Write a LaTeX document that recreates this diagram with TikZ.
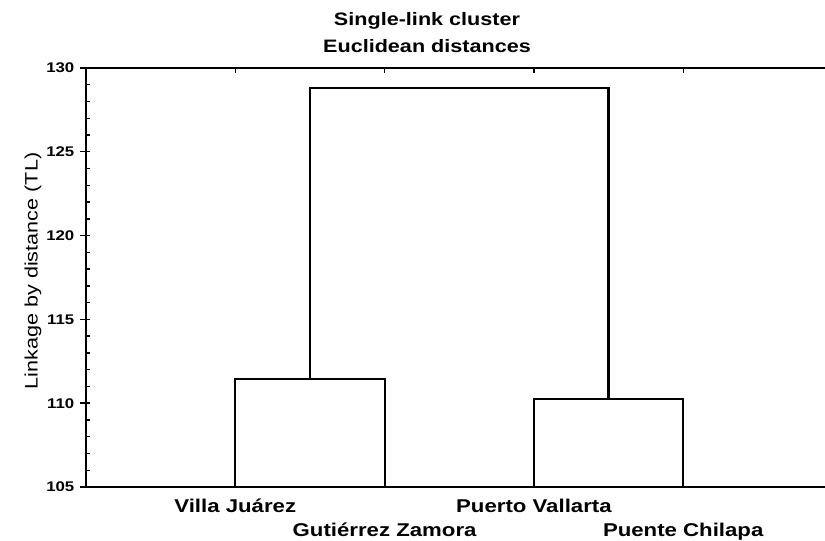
\documentclass[tikz,border=0pt]{standalone}
\usepackage{fontspec}
\newfontfamily\plotfont[FakeStretch=1.2]{Liberation Sans}
\usetikzlibrary{positioning}
\tikzset{
every picture/.style={line cap=rect,line join=miter},
frame line/.style={draw=black, line width=2.2pt},
tree line/.style={draw=black, line width=2.2pt},
tick line/.style={draw=black, line width=1.4pt},
title text/.style={font=\plotfont\bfseries\fontsize{18}{20}\selectfont, inner sep=0pt, anchor=base},
leaf label/.style={font=\plotfont\bfseries\fontsize{18.5}{20}\selectfont, inner sep=0pt, anchor=base},
tick label/.style={font=\plotfont\bfseries\fontsize{14}{16}\selectfont, inner sep=0pt},
axis label/.style={font=\plotfont\fontsize{18}{20}\selectfont, inner sep=0pt, rotate=90}
}
\begin{document}
\begin{tikzpicture}[x=1pt,y=1pt]
\useasboundingbox (0,0) rectangle (825,541);
\fill[white] (0,0) rectangle (825,541);
\node[title text] (title1) at (427,515) {Single-link cluster};
\node[title text] (title2) at (427,488) {Euclidean distances};
\node[axis label] (ylab) at (33,270) {Linkage by distance (TL)};
\begin{scope}[shift={(86pt,54pt)}, y=16.76pt]
% frame and ticks
\draw[frame line] (0,0) rectangle (747,25);
\foreach \v in {1,...,24}
  \draw[tick line] (0,\v) -- ++(3pt,0);
\foreach \lab in {105,110,...,130}
  \draw[tick line] (0,{\lab-105}) -- ++(-5pt,0) node[tick label, left=6pt] {\lab};
\foreach \k in {1,...,4}
  \draw[tick line] (\k*149.3,25) -- ++(0,-4pt);
% leaves and merges
\coordinate (vj) at (149.3,0);
\coordinate (gz) at (298.6,0);
\coordinate (pv) at (447.9,0);
\coordinate (pc) at (597.2,0);
\coordinate (m1) at (223.95,6.45);
\coordinate (m2) at (522.55,5.25);
\coordinate (root) at (373.25,23.8);
\draw[tree line] (vj) |- (m1) -| (gz);
\draw[tree line] (pv) |- (m2) -| (pc);
\draw[tree line] (m1) |- (root) -| (m2);
\node[leaf label] (vjlab) at ([yshift=-26pt]vj) {Villa Juárez};
\node[leaf label] (gzlab) at ([yshift=-50pt]gz) {Gutiérrez Zamora};
\node[leaf label] (pvlab) at ([yshift=-26pt]pv) {Puerto Vallarta};
\node[leaf label] (pclab) at ([yshift=-50pt]pc) {Puente Chilapa};
\end{scope}
\end{tikzpicture}
\end{document}
